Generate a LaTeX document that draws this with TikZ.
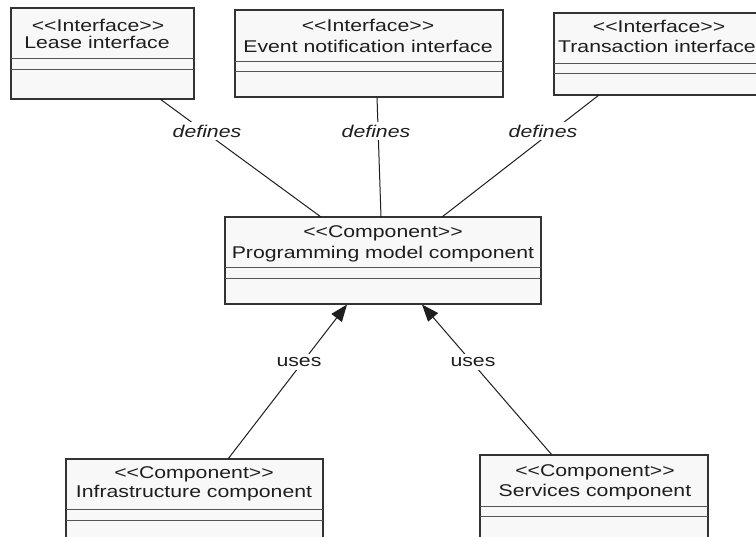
\documentclass[tikz,border=0pt]{standalone}
\usepackage{fontspec}
\setmainfont{Liberation Sans}[FakeStretch=1.25, Ligatures=TeXOff]
\usetikzlibrary{arrows.meta}
\definecolor{boxfill}{HTML}{F8F8F8}
\definecolor{boxline}{HTML}{333333}
\definecolor{divline}{HTML}{555555}
\definecolor{ink}{HTML}{1E1E1E}
\tikzset{
  umlbox/.style={draw=boxline, line width=1.6pt, fill=boxfill, rectangle, inner sep=0pt, outer sep=0pt, anchor=north west},
  divider/.style={draw=divline, line width=0.9pt},
  txt/.style={text=ink, font=\fontsize{17}{21}\selectfont, inner sep=0pt, anchor=base},
  lbl/.style={text=ink, font=\fontsize{17}{21}\selectfont\itshape, fill=white, inner sep=3pt},
  ulbl/.style={text=ink, font=\fontsize{17}{21}\selectfont, fill=white, inner sep=3pt},
  conn/.style={draw=ink, line width=1pt},
  usesarrow/.style={conn, -{Triangle[length=17pt,width=13pt]}}
}
\begin{document}
\begin{tikzpicture}[x=1pt,y=-1pt]
\fill[white] (0,0) rectangle (756,537);
\useasboundingbox (0,0) rectangle (756,537);
\clip (0,0) rectangle (756,537);

% boxes
\node[umlbox, minimum width=183pt, minimum height=91pt] (lease) at (11,8) {};
\node[umlbox, minimum width=268pt, minimum height=87pt] (event) at (235,10) {};
\node[umlbox, minimum width=206pt, minimum height=82pt] (trans) at (554,13) {};
\node[umlbox, minimum width=316pt, minimum height=87pt] (prog) at (225,217) {};
\node[umlbox, minimum width=257pt, minimum height=110pt] (infra) at (66,459) {};
\node[umlbox, minimum width=228pt, minimum height=110pt] (serv) at (480,455) {};

% dividers
\draw[divider] ([yshift=-50pt]lease.north west) -- ([yshift=-50pt]lease.north east);
\draw[divider] ([yshift=-61pt]lease.north west) -- ([yshift=-61pt]lease.north east);
\draw[divider] ([yshift=-51pt]event.north west) -- ([yshift=-51pt]event.north east);
\draw[divider] ([yshift=-61pt]event.north west) -- ([yshift=-61pt]event.north east);
\draw[divider] ([yshift=-50pt]trans.north west) -- ([yshift=-50pt]trans.north east);
\draw[divider] ([yshift=-60pt]trans.north west) -- ([yshift=-60pt]trans.north east);
\draw[divider] ([yshift=-50pt]prog.north west) -- ([yshift=-50pt]prog.north east);
\draw[divider] ([yshift=-61pt]prog.north west) -- ([yshift=-61pt]prog.north east);
\draw[divider] ([yshift=-50pt]infra.north west) -- ([yshift=-50pt]infra.north east);
\draw[divider] ([yshift=-61pt]infra.north west) -- ([yshift=-61pt]infra.north east);
\draw[divider] ([yshift=-51pt]serv.north west) -- ([yshift=-51pt]serv.north east);
\draw[divider] ([yshift=-61pt]serv.north west) -- ([yshift=-61pt]serv.north east);

% texts
\node[txt] (leaseA) at (98,32) {<<Interface>>};
\node[txt] (leaseB) at (97,49) {Lease interface};
\node[txt] (eventA) at (368,32) {<<Interface>>};
\node[txt] (eventB) at (368,53) {Event notification interface};
\node[txt] (transA) at (659,33) {<<Interface>>};
\node[txt] (transB) at (657,53) {Transaction interface};
\node[txt] (progA) at (383,238) {<<Component>>};
\node[txt] (progB) at (383,259) {Programming model component};
\node[txt] (infraA) at (194,479) {<<Component>>};
\node[txt] (infraB) at (194,498) {Infrastructure component};
\node[txt] (servA) at (595,477) {<<Component>>};
\node[txt] (servB) at (595,497) {Services component};

% connector end points on box borders
\coordinate (l1) at (160,99);
\coordinate (p1) at (321,217);
\coordinate (e1) at (377,97);
\coordinate (p2) at (381,217);
\coordinate (t1) at (599,95);
\coordinate (p3) at (442,217);
\coordinate (i1) at (228,459);
\coordinate (p4) at (347,304.5);
\coordinate (s1) at (552,455);
\coordinate (p5) at (422,304.5);

\draw[conn] (l1) -- (p1);
\draw[conn] (e1) -- (p2);
\draw[conn] (t1) -- (p3);
\draw[usesarrow] (i1) -- (p4);
\draw[usesarrow] (s1) -- (p5);

% labels
\node[lbl] (d1) at (207,131) {defines};
\node[lbl] (d2) at (376,131) {defines};
\node[lbl] (d3) at (543,131) {defines};
\node[ulbl] (u1) at (299,362) {uses};
\node[ulbl] (u2) at (473,362) {uses};
\end{tikzpicture}
\end{document}
